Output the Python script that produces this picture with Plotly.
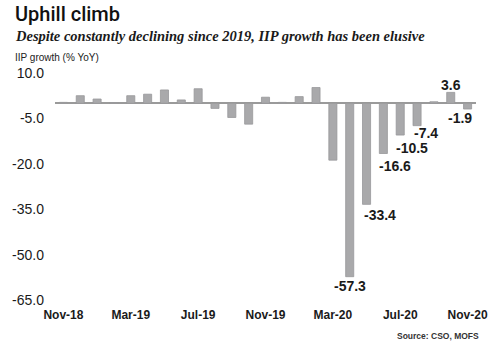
import plotly.graph_objects as go

months = ["Nov-18","Dec-18","Jan-19","Feb-19","Mar-19","Apr-19","May-19","Jun-19","Jul-19",
          "Aug-19","Sep-19","Oct-19","Nov-19","Dec-19","Jan-20","Feb-20","Mar-20","Apr-20",
          "May-20","Jun-20","Jul-20","Aug-20","Sep-20","Oct-20","Nov-20"]
iip_growth = [0.3, 2.5, 1.4, 0.2, 2.5, 3.0, 4.4, 1.1, 4.8,
              -1.7, -4.7, -6.9, 2.0, 0.3, 2.2, 5.2, -18.8, -57.3,
              -33.4, -16.6, -10.5, -7.4, 0.5, 3.6, -1.9]
x_tick_labels = ["Nov-18","Mar-19","Jul-19","Nov-19","Mar-20","Jul-20","Nov-20"]
y_tick_values = [10, -5, -20, -35, -50, -65]
y_tick_text = ["10.0", "-5.0", "-20.0", "-35.0", "-50.0", "-65.0"]
labelled_months = ["Apr-20","May-20","Jun-20","Jul-20","Aug-20","Oct-20","Nov-20"]

# label placement offsets (pixels): (xshift, yshift)
label_offsets = {"Apr-20": (0, -9), "May-20": (13, -11), "Jun-20": (12, -12),
                 "Jul-20": (12, -13), "Aug-20": (9, -7), "Oct-20": (0, 7), "Nov-20": (-8, -9)}

fig = go.Figure()
fig.add_trace(go.Bar(
    x=months, y=iip_growth,
    marker=dict(color="#a9a9ab", line=dict(color="#98989a", width=0.8)),
    width=0.48,
    hoverinfo="x+y",
))

annotations = []
for m in labelled_months:
    v = iip_growth[months.index(m)]
    dx, dy = label_offsets[m]
    annotations.append(dict(
        x=m, y=v, xref="x", yref="y", text=f"{v:.1f}", showarrow=False,
        xanchor="center", yanchor="middle", xshift=dx, yshift=dy,
        font=dict(family="Liberation Sans", size=14, color="#1a1a1a", weight="bold"),
    ))

annotations += [
    dict(text="Uphill climb", xref="paper", yref="paper", x=-0.1, y=1.26,
         xanchor="left", yanchor="middle", showarrow=False,
         font=dict(family="Roboto", size=20, color="#111111", weight=500)),
    dict(text="<b><i>Despite constantly declining since 2019, IIP growth has been elusive</i></b>",
         xref="paper", yref="paper", x=-0.1, y=1.163, xanchor="left", yanchor="middle",
         showarrow=False, font=dict(family="Liberation Serif", size=14.5, color="#1a1a1a")),
    dict(text="IIP growth (% YoY)", xref="paper", yref="paper", x=-0.1, y=1.068,
         xanchor="left", yanchor="middle", showarrow=False,
         font=dict(family="Liberation Sans", size=10, color="#222222")),
    dict(text="<b>Source: CSO, MOFS</b>", xref="paper", yref="paper", x=1.0116, y=-0.159,
         xanchor="right", yanchor="middle", showarrow=False,
         font=dict(family="Liberation Sans", size=8.5, color="#333333")),
]

fig.update_layout(
    width=500, height=343,
    margin=dict(l=51, r=19, t=73, b=43),
    paper_bgcolor="white", plot_bgcolor="white",
    showlegend=False,
    annotations=annotations,
)
fig.update_xaxes(
    type="category", range=[-0.5, len(months) - 0.5],
    tickmode="array", tickvals=x_tick_labels, ticktext=x_tick_labels,
    showline=False, showgrid=False, ticks="", ticklabelstandoff=6,
    tickfont=dict(family="Liberation Sans", size=12, color="#1a1a1a", weight="bold"),
)
fig.update_yaxes(
    range=[-65, 10], tickmode="array", tickvals=y_tick_values, ticktext=y_tick_text,
    showgrid=False, showline=False, ticks="",
    zeroline=True, zerolinecolor="#9a9a9a", zerolinewidth=1.5,
    ticklabelstandoff=10,
    tickfont=dict(family="Liberation Sans", size=14, color="#1a1a1a"),
)

fig.write_html("out.html")
